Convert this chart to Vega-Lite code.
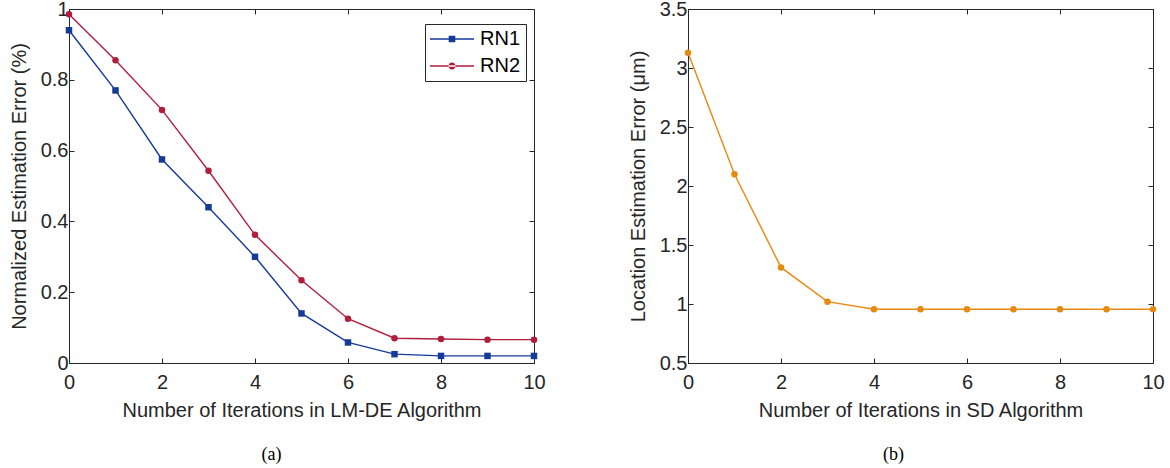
{
  "$schema": "https://vega.github.io/schema/vega-lite/v6.json",
  "padding": {"left": 9, "top": -2, "right": 5, "bottom": 0},
  "background": "white",
  "config": {
    "view": {"stroke": "#262626", "strokeWidth": 1},
    "axis": {
      "domainColor": "#262626", "tickColor": "#262626", "labelColor": "#262626", "titleColor": "#262626",
      "labelFont": "Liberation Sans", "titleFont": "Liberation Sans", "labelFontSize": 20, "titleFontSize": 20,
      "titleFontWeight": "normal", "tickSize": -5, "grid": false, "labelFlush": false, "labelOverlap": false,
      "domainWidth": 1, "tickWidth": 1, "labelExpr": "datum.value + ''"
    },
    "legend": {"labelFont": "Liberation Sans", "labelFontSize": 20, "labelColor": "#000000"}
  },
  "datasets": {
    "a": [
      {"it": 0, "series": "RN1", "err": 0.94}, {"it": 1, "series": "RN1", "err": 0.77}, {"it": 2, "series": "RN1", "err": 0.575},
      {"it": 3, "series": "RN1", "err": 0.44}, {"it": 4, "series": "RN1", "err": 0.30}, {"it": 5, "series": "RN1", "err": 0.14},
      {"it": 6, "series": "RN1", "err": 0.058}, {"it": 7, "series": "RN1", "err": 0.025}, {"it": 8, "series": "RN1", "err": 0.02},
      {"it": 9, "series": "RN1", "err": 0.02}, {"it": 10, "series": "RN1", "err": 0.02},
      {"it": 0, "series": "RN2", "err": 0.985}, {"it": 1, "series": "RN2", "err": 0.855}, {"it": 2, "series": "RN2", "err": 0.715},
      {"it": 3, "series": "RN2", "err": 0.543}, {"it": 4, "series": "RN2", "err": 0.362}, {"it": 5, "series": "RN2", "err": 0.234},
      {"it": 6, "series": "RN2", "err": 0.125}, {"it": 7, "series": "RN2", "err": 0.07}, {"it": 8, "series": "RN2", "err": 0.068},
      {"it": 9, "series": "RN2", "err": 0.066}, {"it": 10, "series": "RN2", "err": 0.066}
    ],
    "b": [
      {"it": 0, "err": 3.13}, {"it": 1, "err": 2.10}, {"it": 2, "err": 1.31}, {"it": 3, "err": 1.02},
      {"it": 4, "err": 0.955}, {"it": 5, "err": 0.955}, {"it": 6, "err": 0.955}, {"it": 7, "err": 0.955},
      {"it": 8, "err": 0.955}, {"it": 9, "err": 0.955}, {"it": 10, "err": 0.955}
    ]
  },
  "hconcat": [
    {
      "width": 465, "height": 354,
      "title": {"text": "(a)", "orient": "bottom", "font": "Liberation Serif", "fontSize": 18, "fontWeight": "normal", "color": "#000000", "offset": 26, "dx": -30},
      "data": {"name": "a"},
      "layer": [
        {
          "mark": {"type": "line", "strokeWidth": 1.4},
          "encoding": {
            "x": {"field": "it", "type": "quantitative", "scale": {"domain": [0, 10], "nice": false},
                  "axis": {"values": [0, 2, 4, 6, 8, 10], "title": "Number of Iterations in LM-DE Algorithm", "labelPadding": 14, "titlePadding": 8}},
            "y": {"field": "err", "type": "quantitative", "scale": {"domain": [0, 1], "nice": false},
                  "axis": {"values": [0, 0.2, 0.4, 0.6, 0.8, 1], "title": "Normalized Estimation Error (%)", "labelPadding": 6, "titlePadding": 10.5}},
            "color": {"field": "series", "type": "nominal", "scale": {"domain": ["RN1", "RN2"], "range": ["#163a98", "#b21d3c"]}, "legend": null}
          }
        },
        {
          "mark": {"type": "point", "filled": true, "size": 42, "opacity": 1},
          "encoding": {
            "x": {"field": "it", "type": "quantitative", "axis": null},
            "y": {"field": "err", "type": "quantitative", "axis": null},
            "color": {"field": "series", "type": "nominal", "scale": {"domain": ["RN1", "RN2"], "range": ["#163a98", "#b21d3c"]}, "legend": null},
            "shape": {"field": "series", "type": "nominal", "scale": {"domain": ["RN1", "RN2"], "range": ["square", "circle"]}, "legend": null}
          }
        },
        {
          "mark": {"type": "point", "filled": true, "opacity": 0},
          "encoding": {
            "x": {"field": "it", "type": "quantitative", "axis": null},
            "y": {"field": "err", "type": "quantitative", "axis": null},
            "color": {"field": "series", "type": "nominal", "scale": {"domain": ["RN1", "RN2"], "range": ["#163a98", "#b21d3c"]},
                      "legend": {"title": null, "orient": "none", "legendX": 356, "legendY": 15, "strokeColor": "#262626", "fillColor": "white", "padding": 5, "symbolSize": 400, "symbolOpacity": 1, "symbolStrokeWidth": 0, "labelOffset": 30, "rowPadding": 7}},
            "shape": {"field": "series", "type": "nominal",
                      "scale": {"domain": ["RN1", "RN2"], "range": ["M-1,-0.065H3.4V0.065H-1Z M0.87,-0.33H1.53V0.33H0.87Z", "M-1,-0.065H3.4V0.065H-1Z M0.85,0A0.35,0.35 0 1,0 1.55,0A0.35,0.35 0 1,0 0.85,0Z"]},
                      "legend": {"title": null, "orient": "none", "legendX": 356, "legendY": 15, "strokeColor": "#262626", "fillColor": "white", "padding": 5, "symbolSize": 400, "symbolOpacity": 1, "symbolStrokeWidth": 0, "labelOffset": 30, "rowPadding": 7}}
          }
        },
        {
          "mark": {"type": "point", "opacity": 0},
          "encoding": {
            "x": {"field": "it", "type": "quantitative", "axis": {"orient": "top", "labels": false, "title": null, "values": [0, 2, 4, 6, 8, 10]}},
            "y": {"field": "err", "type": "quantitative", "axis": {"orient": "right", "labels": false, "title": null, "values": [0, 0.2, 0.4, 0.6, 0.8, 1]}}
          }
        }
      ],
      "resolve": {"scale": {"color": "independent", "shape": "independent"}, "axis": {"x": "independent", "y": "independent"}}
    },
    {
      "width": 465, "height": 354,
      "title": {"text": "(b)", "orient": "bottom", "font": "Liberation Serif", "fontSize": 18, "fontWeight": "normal", "color": "#000000", "offset": 26, "dx": -27},
      "data": {"name": "b"},
      "layer": [
        {
          "mark": {"type": "line", "strokeWidth": 1.4, "color": "#e8890f"},
          "encoding": {
            "x": {"field": "it", "type": "quantitative", "scale": {"domain": [0, 10], "nice": false},
                  "axis": {"values": [0, 2, 4, 6, 8, 10], "title": "Number of Iterations in SD Algorithm", "labelPadding": 14, "titlePadding": 8}},
            "y": {"field": "err", "type": "quantitative", "scale": {"domain": [0.5, 3.5], "nice": false},
                  "axis": {"values": [0.5, 1, 1.5, 2, 2.5, 3, 3.5], "title": "Location Estimation Error (μm)", "labelPadding": 6, "titlePadding": 10.5}}
          }
        },
        {
          "mark": {"type": "point", "filled": true, "size": 42, "opacity": 1, "shape": "circle", "color": "#e8890f"},
          "encoding": {
            "x": {"field": "it", "type": "quantitative", "axis": null},
            "y": {"field": "err", "type": "quantitative", "axis": null}
          }
        },
        {
          "mark": {"type": "point", "opacity": 0},
          "encoding": {
            "x": {"field": "it", "type": "quantitative", "axis": {"orient": "top", "labels": false, "title": null, "values": [0, 2, 4, 6, 8, 10]}},
            "y": {"field": "err", "type": "quantitative", "axis": {"orient": "right", "labels": false, "title": null, "values": [0.5, 1, 1.5, 2, 2.5, 3, 3.5]}}
          }
        }
      ],
      "resolve": {"axis": {"x": "independent", "y": "independent"}}
    }
  ],
  "spacing": 82
}
